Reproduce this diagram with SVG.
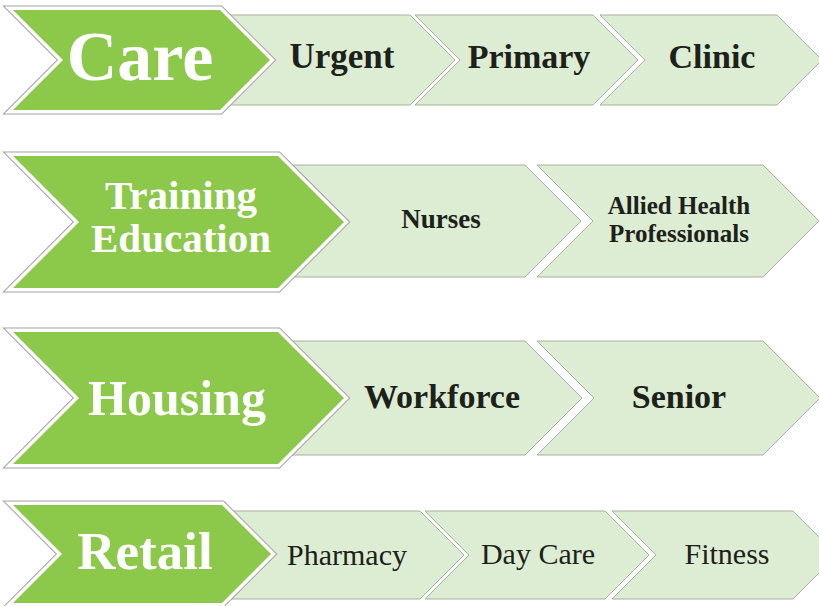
<svg xmlns="http://www.w3.org/2000/svg" width="819" height="606" viewBox="0 0 819 606">
<style>
.gOut{fill:none;stroke:#a3a3a3;stroke-width:9;stroke-linejoin:miter}
.gHalo{fill:none;stroke:#ffffff;stroke-width:7;stroke-linejoin:miter}
.gBody{fill:#8cc84a;stroke:none}
.lHalo{fill:none;stroke:#ffffff;stroke-width:6;stroke-linejoin:miter}
.lBody{fill:#dcedd3;stroke:#a7b19f;stroke-width:1}
.head{font-family:"Liberation Serif","Times New Roman",serif;font-weight:bold;fill:#ffffff;text-anchor:middle}
.lab{font-family:"Liberation Serif","Times New Roman",serif;font-weight:bold;fill:#1c221a;text-anchor:middle}
.labR{font-family:"Liberation Serif","Times New Roman",serif;font-weight:normal;fill:#1c221a;text-anchor:middle}
</style>
<rect width="819" height="606" fill="#ffffff"/>

<!-- Row 1 -->
<g id="urgent">
<polygon class="lHalo" points="228,15 410,15 455,60 410,105 228,105 273,60"/>
<polygon class="lBody" points="228,15 410,15 455,60 410,105 228,105 273,60"/>
<text class="lab" x="342" y="68" font-size="35">Urgent</text>
</g>
<g id="primary">
<polygon class="lHalo" points="415,15 593,15 638,60 593,105 415,105 460,60"/>
<polygon class="lBody" points="415,15 593,15 638,60 593,105 415,105 460,60"/>
<text class="lab" x="529" y="68" font-size="34">Primary</text>
</g>
<g id="clinic">
<polygon class="lHalo" points="600,15 777,15 822,60 777,105 600,105 645,60"/>
<polygon class="lBody" points="600,15 777,15 822,60 777,105 600,105 645,60"/>
<text class="lab" x="712" y="68" font-size="34">Clinic</text>
</g>
<g id="care">
<polygon class="gOut" points="13,10 220,10 270,60 220,110 13,110 63,60"/>
<polygon class="gHalo" points="13,10 220,10 270,60 220,110 13,110 63,60"/>
<polygon class="gBody" points="13,10 220,10 270,60 220,110 13,110 63,60"/>
<text class="head" x="140" y="80" font-size="70">Care</text>
</g>

<!-- Row 2 -->
<g id="nurses">
<polygon class="lHalo" points="293,165 525,165 581,221 525,277 293,277 349,221"/>
<polygon class="lBody" points="293,165 525,165 581,221 525,277 293,277 349,221"/>
<text class="lab" x="441" y="228" font-size="27">Nurses</text>
</g>
<g id="allied">
<polygon class="lHalo" points="537,165 763,165 819,221 763,277 537,277 593,221"/>
<polygon class="lBody" points="537,165 763,165 819,221 763,277 537,277 593,221"/>
<text class="lab" x="679" y="214" font-size="25">Allied Health</text>
<text class="lab" x="679" y="242" font-size="25">Professionals</text>
</g>
<g id="training">
<polygon class="gOut" points="13,156 278,156 344,222 278,288 13,288 79,222"/>
<polygon class="gHalo" points="13,156 278,156 344,222 278,288 13,288 79,222"/>
<polygon class="gBody" points="13,156 278,156 344,222 278,288 13,288 79,222"/>
<text class="head" x="181" y="209" font-size="41">Training</text>
<text class="head" x="181" y="252" font-size="41">Education</text>
</g>

<!-- Row 3 -->
<g id="workforce">
<polygon class="lHalo" points="292,341 525,341 582,398 525,455 292,455 349,398"/>
<polygon class="lBody" points="292,341 525,341 582,398 525,455 292,455 349,398"/>
<text class="lab" x="442" y="408" font-size="34">Workforce</text>
</g>
<g id="senior">
<polygon class="lHalo" points="537,341 763,341 820,398 763,455 537,455 594,398"/>
<polygon class="lBody" points="537,341 763,341 820,398 763,455 537,455 594,398"/>
<text class="lab" x="679" y="408" font-size="34">Senior</text>
</g>
<g id="housing">
<polygon class="gOut" points="13,332 278,332 344,398 278,464 13,464 79,398"/>
<polygon class="gHalo" points="13,332 278,332 344,398 278,464 13,464 79,398"/>
<polygon class="gBody" points="13,332 278,332 344,398 278,464 13,464 79,398"/>
<text class="head" x="177" y="415" font-size="50">Housing</text>
</g>

<!-- Row 4 -->
<g id="pharmacy">
<polygon class="lHalo" points="230,511 420,511 464,555 420,599 230,599 274,555"/>
<polygon class="lBody" points="230,511 420,511 464,555 420,599 230,599 274,555"/>
<text class="labR" x="347" y="565" font-size="30">Pharmacy</text>
</g>
<g id="daycare">
<polygon class="lHalo" points="425,511 605,511 649,555 605,599 425,599 469,555"/>
<polygon class="lBody" points="425,511 605,511 649,555 605,599 425,599 469,555"/>
<text class="labR" x="538" y="564" font-size="30">Day Care</text>
</g>
<g id="fitness">
<polygon class="lHalo" points="612,511 793,511 837,555 793,599 612,599 656,555"/>
<polygon class="lBody" points="612,511 793,511 837,555 793,599 612,599 656,555"/>
<text class="labR" x="727" y="564" font-size="30">Fitness</text>
</g>
<g id="retail">
<polygon class="gOut" points="13,505 222,505 271,554 222,603 13,603 62,554"/>
<polygon class="gHalo" points="13,505 222,505 271,554 222,603 13,603 62,554"/>
<polygon class="gBody" points="13,505 222,505 271,554 222,603 13,603 62,554"/>
<text class="head" x="145" y="569" font-size="53">Retail</text>
</g>

<g id="connectors"/>
</svg>
